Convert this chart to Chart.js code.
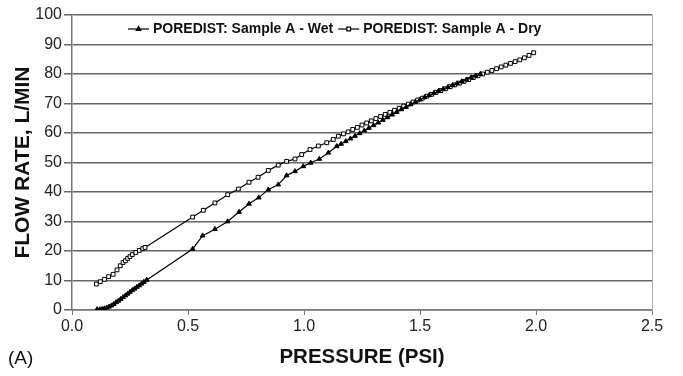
<!DOCTYPE html>
<html>
<head>
<meta charset="utf-8">
<script src="https://cdn.jsdelivr.net/npm/chart.js@4.4.1/dist/chart.umd.min.js"></script>
<style>
  html, body { margin: 0; padding: 0; background: #fff; }
  #wrap { width: 683px; height: 376px; }
</style>
</head>
<body>
<div id="wrap"><canvas id="flowChart" width="683" height="376"></canvas></div>
<script>
// pressure (PSI) and flow rate (L/min)
const wetPressure = [0.108, 0.12, 0.13, 0.14, 0.15, 0.16, 0.17, 0.18, 0.19, 0.20, 0.21, 0.22, 0.23, 0.24, 0.25, 0.26, 0.27, 0.28, 0.29, 0.30, 0.31, 0.322,
  0.52, 0.563, 0.616, 0.671, 0.72, 0.763, 0.805, 0.846, 0.889, 0.925, 0.961, 0.997, 1.029, 1.066, 1.105, 1.141,
  1.16, 1.18, 1.20, 1.22, 1.24, 1.26, 1.28, 1.30, 1.32, 1.34, 1.36, 1.38, 1.40, 1.42, 1.44, 1.46, 1.48, 1.50,
  1.52, 1.54, 1.56, 1.58, 1.60, 1.62, 1.64, 1.66, 1.68, 1.70, 1.72, 1.74, 1.76];
const wetFlow = [0.2, 0.2, 0.3, 0.5, 0.8, 1.1, 1.5, 2.0, 2.6, 3.1, 3.7, 4.3, 4.9, 5.5, 6.1, 6.7, 7.2, 7.8, 8.3, 8.9, 9.5, 10.2,
  20.7, 25.2, 27.4, 30.0, 33.2, 36.0, 38.1, 40.8, 42.5, 45.6, 47.0, 48.7, 49.9, 51.2, 53.3, 55.5,
  56.3, 57.2, 58.1, 59.0, 59.9, 60.8, 61.7, 62.6, 63.5, 64.4, 65.3, 66.2, 67.1, 68.0, 68.8, 69.7, 70.5, 71.3,
  72.1, 72.8, 73.5, 74.2, 74.9, 75.5, 76.2, 76.8, 77.5, 78.1, 78.8, 79.4, 80.0];

const dryPressure = [0.105, 0.122, 0.14, 0.158, 0.177, 0.194, 0.208, 0.22, 0.23, 0.24, 0.25, 0.26, 0.275, 0.29, 0.305, 0.315,
  0.52, 0.566, 0.616, 0.671, 0.717, 0.763, 0.802, 0.846, 0.889, 0.925, 0.961, 0.99, 1.026, 1.062, 1.098, 1.126, 1.148,
  1.17, 1.19, 1.21, 1.23, 1.25, 1.27, 1.29, 1.31, 1.33, 1.35, 1.37, 1.39, 1.41, 1.43, 1.45, 1.47, 1.49,
  1.51, 1.53, 1.55, 1.57, 1.59, 1.61, 1.63, 1.65, 1.67, 1.69, 1.71, 1.73, 1.75, 1.77, 1.79, 1.81, 1.83,
  1.85, 1.87, 1.89, 1.91, 1.93, 1.95, 1.97, 1.99];
const dryFlow = [8.8, 9.6, 10.4, 11.3, 12.1, 13.6, 15.0, 16.1, 16.7, 17.5, 18.1, 18.8, 19.5, 20.2, 20.8, 21.2,
  31.5, 33.8, 36.3, 39.1, 41.0, 43.3, 45.0, 47.3, 49.1, 50.4, 51.2, 52.7, 54.4, 55.6, 56.7, 57.8, 58.9,
  59.7, 60.4, 61.2, 61.9, 62.7, 63.4, 64.1, 64.9, 65.6, 66.3, 67.0, 67.7, 68.4, 69.1, 69.8, 70.5, 71.2,
  71.8, 72.5, 73.1, 73.8, 74.4, 75.0, 75.7, 76.3, 76.9, 77.5, 78.1, 78.8, 79.4, 80.0, 80.6, 81.2, 81.8,
  82.4, 83.0, 83.6, 84.2, 84.8, 85.5, 86.3, 87.2];

const seriesNames = ['POREDIST: Sample A - Wet', 'POREDIST: Sample A - Dry'];
const xTicks = [0, 0.5, 1.0, 1.5, 2.0, 2.5];
const yTicks = [0, 10, 20, 30, 40, 50, 60, 70, 80, 90, 100];

const FONT = "'Liberation Sans', Arial, sans-serif";

function toPoints(xs, ys) {
  return xs.map((x, i) => ({ x: x, y: ys[i] }));
}

// legend drawn inside the plot, line + marker like the original
const legendInside = {
  id: 'legendInside',
  afterDraw(chart) {
    const ctx = chart.ctx;
    const y = 29;
    let x = 128;
    ctx.save();
    ctx.font = 'bold 14px ' + FONT;
    ctx.textBaseline = 'middle';
    chart.data.datasets.forEach((ds) => {
      ctx.strokeStyle = '#000';
      ctx.lineWidth = 1.2;
      ctx.beginPath();
      ctx.moveTo(x, y);
      ctx.lineTo(x + 21, y);
      ctx.stroke();
      ctx.fillStyle = ds.pointBackgroundColor;
      Chart.helpers.drawPoint(ctx, {
        pointStyle: ds.pointStyle, rotation: 0, radius: 2.6, borderWidth: 1
      }, x + 10.5, y);
      ctx.fillStyle = '#111';
      ctx.fillText(ds.label, x + 25, y + 0.5);
      x += 25 + ctx.measureText(ds.label).width + 5;
    });
    ctx.restore();
  }
};

const extras = {
  id: 'extras',
  beforeDatasetsDraw(chart) {
    const a = chart.chartArea;
    const ctx = chart.ctx;
    ctx.save();
    ctx.strokeStyle = '#aaa';
    ctx.lineWidth = 1;
    ctx.beginPath();
    ctx.moveTo(a.right + 0.5, a.top);
    ctx.lineTo(a.right + 0.5, a.bottom);
    ctx.stroke();
    ctx.restore();
  },
  afterDraw(chart) {
    const ctx = chart.ctx;
    ctx.save();
    ctx.font = '19px ' + FONT;
    ctx.fillStyle = '#111';
    ctx.textBaseline = 'middle';
    ctx.fillText('(A)', 8, 359);
    ctx.restore();
  }
};

const ctx = document.getElementById('flowChart');
new Chart(ctx, {
  type: 'line',
  data: {
    datasets: [{
      label: seriesNames[0],
      data: toPoints(wetPressure, wetFlow),
      borderColor: '#000',
      borderWidth: 1.2,
      pointStyle: 'triangle',
      pointRadius: 2.7,
      pointBackgroundColor: '#000',
      pointBorderColor: '#000',
      pointBorderWidth: 1,
      tension: 0
    }, {
      label: seriesNames[1],
      data: toPoints(dryPressure, dryFlow),
      borderColor: '#000',
      borderWidth: 1.2,
      pointStyle: 'rect',
      pointRadius: 2.7,
      pointBackgroundColor: '#fff',
      pointBorderColor: '#000',
      pointBorderWidth: 1,
      tension: 0
    }]
  },
  options: {
    responsive: false,
    animation: false,
    maintainAspectRatio: false,
    layout: { padding: { left: 0, right: 31, top: 15, bottom: 6 } },
    plugins: {
      legend: { display: false },
      tooltip: { enabled: false }
    },
    scales: {
      x: {
        type: 'linear',
        min: 0,
        max: 2.5,
        afterFit(scale) { scale.height = 60; },
        afterBuildTicks(scale) { scale.ticks = xTicks.map(v => ({ value: v })); },
        ticks: {
          font: { family: FONT, size: 16 },
          color: '#222',
          padding: 2,
          maxRotation: 0,
          callback: v => v.toFixed(1)
        },
        grid: { drawOnChartArea: false, drawTicks: true, tickLength: 5, color: '#777' },
        border: { color: '#777', width: 1.5 },
        title: {
          display: true,
          text: 'PRESSURE (PSI)',
          font: { family: FONT, size: 20.5, weight: 'bold' },
          color: '#111',
          padding: { top: 0, bottom: 0 }
        }
      },
      y: {
        min: 0,
        max: 100,
        afterFit(scale) { scale.width = 72; },
        afterBuildTicks(scale) { scale.ticks = yTicks.map(v => ({ value: v })); },
        ticks: {
          font: { family: FONT, size: 16 },
          color: '#222',
          padding: 2
        },
        grid: { color: '#666', lineWidth: 1.5, tickLength: 8 },
        border: { color: '#777', width: 1.5 },
        title: {
          display: true,
          text: 'FLOW RATE, L/MIN',
          font: { family: FONT, size: 21, weight: 'bold' },
          color: '#111',
          padding: { top: 11, bottom: 0 }
        }
      }
    }
  },
  plugins: [legendInside, extras]
});
</script>
</body>
</html>
